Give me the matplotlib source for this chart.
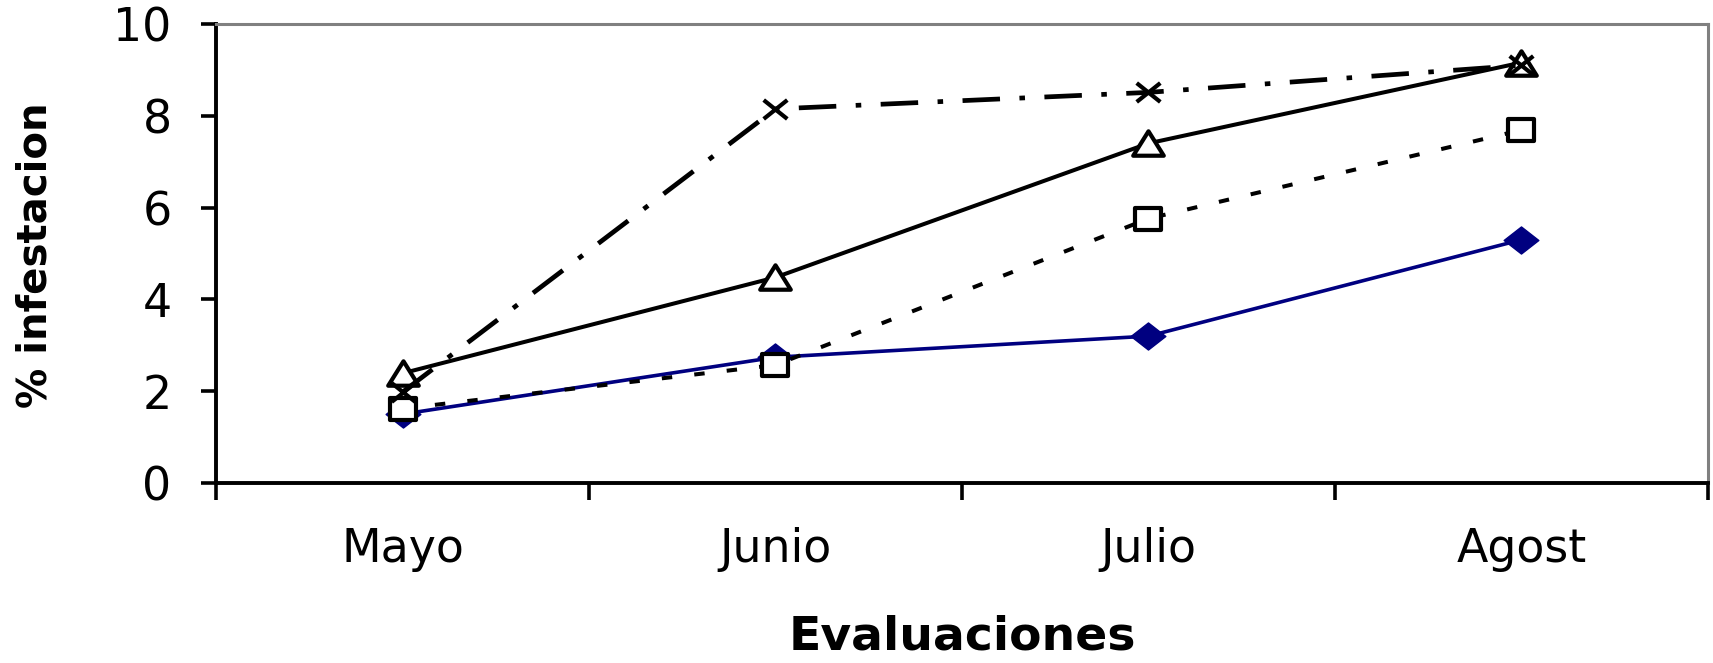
import numpy as np
import matplotlib
matplotlib.use("Agg")
import matplotlib.pyplot as plt
from matplotlib.path import Path

# Data: monthly infestation (%) per treatment
months = ["Mayo", "Junio", "Julio", "Agost"]
serie_diamante = [1.5, 2.74, 3.2, 5.3]
serie_cuadro = [1.62, 2.57, 5.76, 7.69]
serie_triangulo = [2.39, 4.48, 7.4, 9.16]
serie_cruz = [1.98, 8.15, 8.51, 9.1]
y_ticks = [0, 2, 4, 6, 8, 10]

plt.rcParams["font.family"] = ["DejaVu Sans"]
plt.rcParams["lines.scale_dashes"] = False

# Marker shapes (slightly wider than tall)
diamond = Path([(-1, 0), (0, 0.78), (1, 0), (0, -0.78), (-1, 0)],
               [Path.MOVETO, Path.LINETO, Path.LINETO, Path.LINETO, Path.CLOSEPOLY])
rect = Path([(-1, -0.8), (1, -0.8), (1, 0.8), (-1, 0.8), (-1, -0.8)],
            [Path.MOVETO, Path.LINETO, Path.LINETO, Path.LINETO, Path.CLOSEPOLY])
tri = Path([(-1, -0.8), (1, -0.8), (0, 0.8), (-1, -0.8)],
           [Path.MOVETO, Path.LINETO, Path.LINETO, Path.CLOSEPOLY])
cross = Path([(-1, -0.8), (1, 0.8), (-1, 0.8), (1, -0.8)],
             [Path.MOVETO, Path.LINETO, Path.MOVETO, Path.LINETO])

fig = plt.figure(figsize=(17.13, 6.63), dpi=100)
ax = fig.add_axes([216 / 1713, 180 / 663, (1708 - 216) / 1713, (483 - 24) / 663])

x = np.arange(1, len(months) + 1)

ax.plot(x, serie_diamante, color="#000080", lw=2.6, marker=diamond, ms=25,
        mfc="#000080", mec="#000080", mew=1, zorder=3)
ax.plot(x, serie_cuadro, color="black", lw=2.9, dashes=(7.5, 16),
        marker=rect, ms=19, mfc="white", mec="black", mew=3.0, zorder=4)
ax.plot(x, serie_triangulo, color="black", lw=2.9, marker=tri, ms=22,
        mfc="white", mec="black", mew=3.0, zorder=5)
ax.plot(x, serie_cruz, color="black", lw=3.4, dashes=(27, 14, 4, 14),
        marker=cross, ms=17, mfc="none", mec="black", mew=3.0, zorder=6)

ax.set_xlim(0.5, len(months) + 0.5)
ax.set_ylim(0, 10)

# Axis ticks: boundaries between categories, labels centred
ax.set_xticks(np.arange(0.5, len(months) + 1.0, 1.0))
ax.set_xticklabels([])
ax.set_xticks(x, minor=True)
ax.set_xticklabels(months, minor=True, fontsize=33)
ax.tick_params(axis="x", which="major", direction="out", length=12, width=2.6, color="black")
ax.tick_params(axis="x", which="minor", length=0, pad=32)

ax.set_yticks(y_ticks)
ax.set_yticklabels([str(v) for v in y_ticks], fontsize=33)
ax.tick_params(axis="y", direction="out", length=11, width=2.6, pad=21, color="black")

for side in ("left", "bottom"):
    ax.spines[side].set_color("black")
    ax.spines[side].set_linewidth(2.8)
for side in ("top", "right"):
    ax.spines[side].set_color("#808080")
    ax.spines[side].set_linewidth(2.2)

fig.text(36 / 1713, 1 - 255 / 663, "% infestacion", rotation=90, fontsize=29,
         fontweight="bold", ha="center", va="center")
fig.text(962 / 1713, 1 - 637 / 663, "Evaluaciones", fontsize=34,
         fontweight="bold", ha="center", va="center")

fig.savefig("out.png", dpi=100, facecolor="white")
